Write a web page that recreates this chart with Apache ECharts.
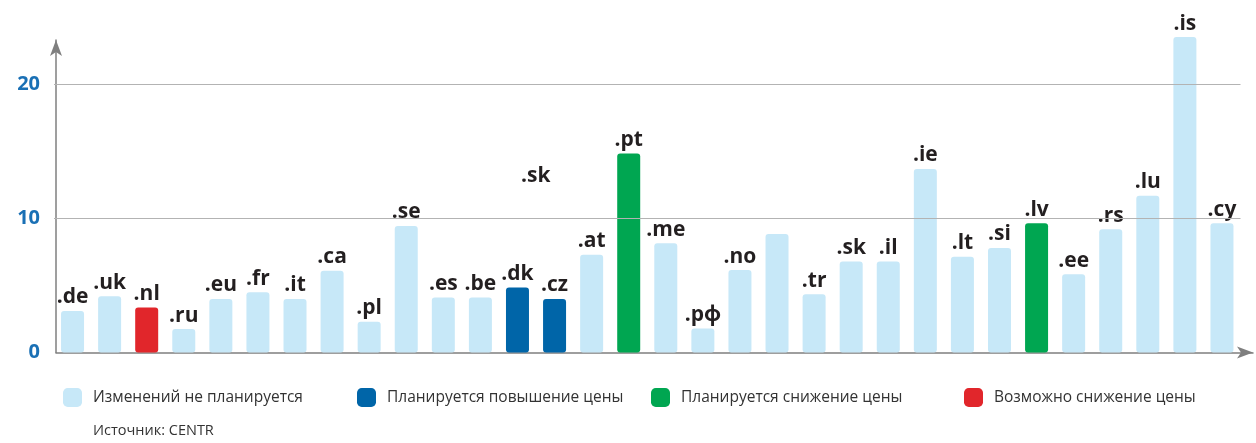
<!DOCTYPE html>
<html><head><meta charset="utf-8">
<script src="https://cdn.jsdelivr.net/npm/echarts@6/dist/echarts.min.js"></script>
<style>html,body{margin:0;padding:0;background:#fff}#c{width:1256px;height:443px}</style>
</head><body><div id="c"></div>
<script>
const categories = ['.de','.uk','.nl','.ru','.eu','.fr','.it','.ca','.pl','.se','.es','.be','.dk','.cz','.at','.pt','.me','.рф','.no','','.tr','.sk','.il','.ie','.lt','.si','.lv','.ee','.rs','.lu','.is','.cy'];
const values = [3.1,4.2,3.35,1.75,4.0,4.5,4.0,6.1,2.3,9.45,4.1,4.1,4.85,4.0,7.3,14.85,8.15,1.8,6.15,8.85,4.35,6.8,6.8,13.7,7.15,7.8,9.65,5.85,9.2,11.7,23.55,9.65];
const groups = ['none','none','maybe','none','none','none','none','none','none','none','none','none','up','up','none','down','none','none','none','none','none','none','none','none','none','none','down','none','none','none','none','none'];
const groupKeys = ['none','up','down','maybe'];
const groupNames = ['Изменений не планируется','Планируется повышение цены','Планируется снижение цены','Возможно снижение цены'];
const groupColors = ['#c7e8f8','#0065a8','#00a651','#e1262b'];
const yTicks = [0,10,20];
const strayLabel = '.sk';
const sourceText = 'Источник: CENTR';

const chart = echarts.init(document.getElementById('c'));
const font = '"Open Sans", "Noto Sans", sans-serif';
const series = groupKeys.map((g, gi) => ({
  name: groupNames[gi],
  type: 'bar',
  xAxisIndex: 0, yAxisIndex: 0,
  barWidth: 23,
  barGap: '-100%',
  clip: false,
  itemStyle: { color: groupColors[gi], borderRadius: 3 },
  label: {
    show: true, position: 'top', distance: 3,
    formatter: p => p.name,
    fontFamily: font, fontWeight: 'bold', fontSize: 21, color: '#231f20'
  },
  data: values.map((v, i) => groups[i] === g ? v : '-'),
  markLine: gi === 0 ? {
    silent: true, symbol: 'none', label: { show: false },
    lineStyle: { color: '#b3b3b3', width: 1.2, type: 'solid' },
    data: yTicks.filter(t => t > 0).map(t => ({ yAxis: t }))
  } : undefined,
  z: 3
}));

const legends = groupNames.map((n, i) => ({
  data: [n],
  left: [58, 352, 646, 959][i],
  top: 383,
  icon: 'roundRect',
  itemWidth: 19, itemHeight: 19,
  selectedMode: false,
  textStyle: { fontFamily: font, fontSize: 15.5, color: '#333', padding: [0,0,0,6] }
}));

chart.setOption({
  animation: false,
  grid: [
    { left: 54, right: 15.5, top: 31, bottom: 90.5 },
    { left: 56, right: 3, top: 40, bottom: 90.5 }
  ],
  legend: legends,
  xAxis: [
    { type: 'category', gridIndex: 0, data: categories, axisLine: { show: false }, axisTick: { show: false }, axisLabel: { show: false } },
    { type: 'value', gridIndex: 1, min: 0, max: 1, axisLine: { show: true, symbol: ['none','arrow'], symbolSize: [9,16], lineStyle: { color: '#7f7f7f', width: 1.5 } }, axisTick: { show: false }, axisLabel: { show: false }, splitLine: { show: false } }
  ],
  yAxis: [
    { type: 'value', gridIndex: 0, min: 0, max: 24, interval: 10,
      axisLine: { show: false }, axisTick: { show: false }, splitLine: { show: false },
      axisLabel: { margin: 14, fontFamily: font, fontWeight: 'bold', fontSize: 20, color: '#1a70b5',
        formatter: v => yTicks.includes(v) ? String(v) : '' } },
    { type: 'value', gridIndex: 1, min: 0, max: 1, axisLine: { show: true, symbol: ['none','arrow'], symbolSize: [9,16], lineStyle: { color: '#7f7f7f', width: 1.5 } }, axisTick: { show: false }, axisLabel: { show: false }, splitLine: { show: false } }
  ],
  series: series,
  graphic: [
    { type: 'text', left: 521, top: 166, style: { text: strayLabel, fontFamily: font, fontWeight: 'bold', fontSize: 21, fill: '#231f20' } },
    { type: 'text', left: 93, top: 423, style: { text: sourceText, fontFamily: font, fontSize: 14.5, fill: '#333' } }
  ]
});
</script></body></html>
